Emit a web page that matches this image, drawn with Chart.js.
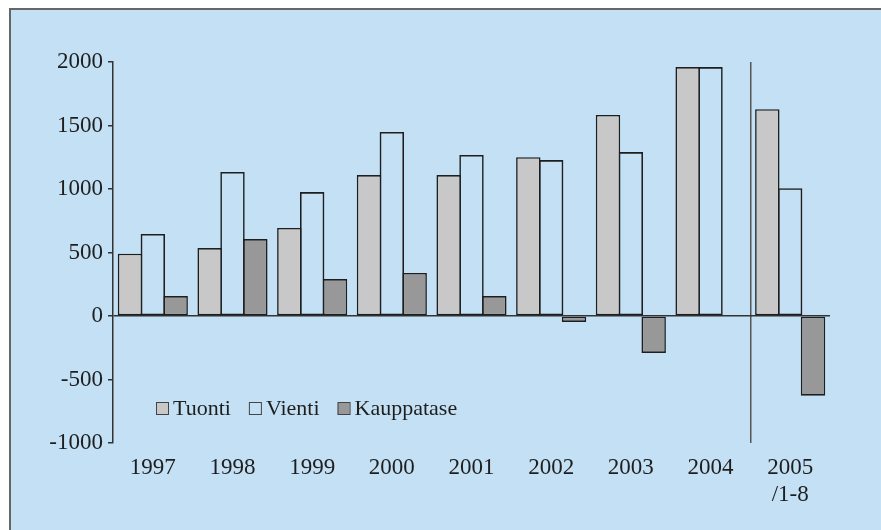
<!DOCTYPE html>
<html>
<head>
<meta charset="utf-8">
<script src="https://cdn.jsdelivr.net/npm/chart.js@4.4.1/dist/chart.umd.min.js"></script>
<style>
    html, body { margin: 0; padding: 0; background: #fff; }
    #frame {
        position: absolute; left: 9px; top: 8px; width: 900px; height: 540px;
        background: #c4e0f4; border-top: 2px solid #666; border-left: 2px solid #666;
    }
    #wrap { position: absolute; left: 0; top: 0; width: 881px; height: 530px; }
</style>
</head>
<body>
<div id="frame"></div>
<div id="wrap"><canvas id="chart" width="881" height="530"></canvas></div>
<script>
"use strict";

const years = ["1997", "1998", "1999", "2000", "2001", "2002", "2003", "2004", ["2005", "/1-8"]];
const tuonti = [490, 535, 693, 1110, 1110, 1250, 1583, 1960, 1628];
const vienti = [646, 1134, 976, 1449, 1268, 1228, 1291, 1960, 1006];
const kauppatase = [157, 606, 291, 339, 157, -47, -291, 5, -627];
const yTicks = [-1000, -500, 0, 500, 1000, 1500, 2000];

const FONT = "'Liberation Serif', 'Times New Roman', serif";
const INK = "#1e1e1e";

// Legend drawn inside the plot, lower left
const innerLegend = {
    id: "innerLegend",
    afterDraw(chart) {
        const ctx = chart.ctx;
        const area = chart.chartArea;
        let x = area.left + 43;
        const base = area.top + 353;
        ctx.save();
        ctx.font = "22px " + FONT;
        ctx.textBaseline = "alphabetic";
        chart.data.datasets.forEach(ds => {
            ctx.fillStyle = ds.backgroundColor;
            ctx.fillRect(x, base - 12, 12, 12);
            ctx.strokeStyle = "#444";
            ctx.lineWidth = 1;
            ctx.strokeRect(x + 0.5, base - 12.5, 12, 12);
            ctx.fillStyle = INK;
            ctx.fillText(ds.label, x + 17, base);
            x += 17 + ctx.measureText(ds.label).width + 18;
        });
        ctx.restore();
    }
};

new Chart(document.getElementById("chart"), {
    type: "bar",
    data: {
        labels: years,
        datasets: [
            { label: "Tuonti", data: tuonti, backgroundColor: "#c8c8c8" },
            { label: "Vienti", data: vienti, backgroundColor: "rgba(0,0,0,0)" },
            { label: "Kauppatase", data: kauppatase, backgroundColor: "#989898" }
        ].map(ds => Object.assign(ds, {
            borderColor: INK,
            borderWidth: 1.6,
            borderSkipped: false,
            categoryPercentage: 0.86,
            barPercentage: 1.07
        }))
    },
    options: {
        responsive: false,
        animation: false,
        layout: { padding: { top: 62, right: 51, left: 0, bottom: 0 } },
        scales: {
            x: {
                offset: true,
                grid: {
                    offset: true,
                    drawTicks: false,
                    color: c => c.index === 8 ? "#555" : "rgba(0,0,0,0)",
                    lineWidth: 1.5
                },
                border: { display: false },
                ticks: { color: INK, font: { family: FONT, size: 23 }, padding: 11, maxRotation: 0 },
                afterFit: s => { s.height = 87; }
            },
            y: {
                min: -1000,
                max: 2000,
                afterBuildTicks: s => { s.ticks = yTicks.map(v => ({ value: v })); },
                grid: {
                    color: c => c.tick && c.tick.value === 0 ? "#333" : "rgba(0,0,0,0)",
                    tickColor: "#333",
                    tickLength: 5,
                    lineWidth: 1.5
                },
                border: { display: true, color: "#333", width: 1.5 },
                ticks: {
                    color: INK,
                    font: { family: FONT, size: 23 },
                    padding: 5,
                    callback: v => String(v)
                },
                afterFit: s => { s.width = 113; }
            }
        },
        plugins: {
            legend: { display: false },
            tooltip: { enabled: false }
        }
    },
    plugins: [innerLegend]
});
</script>
</body>
</html>
